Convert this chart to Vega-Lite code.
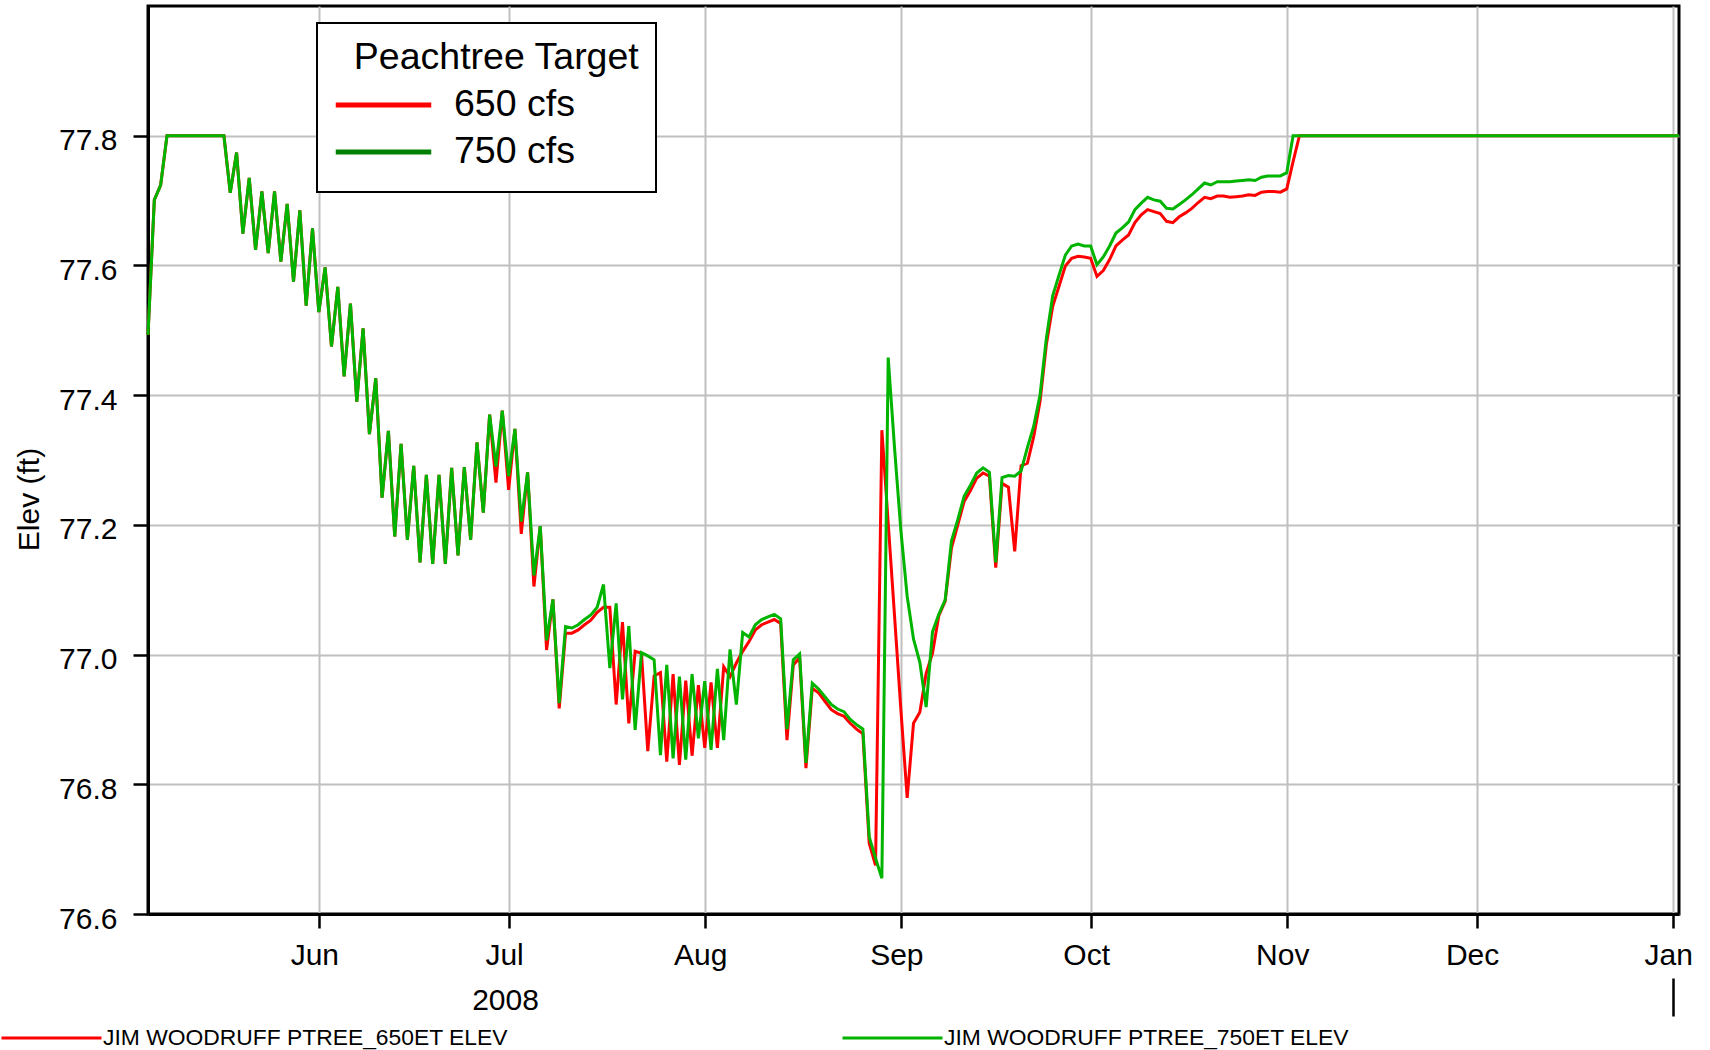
{
"$schema": "https://vega.github.io/schema/vega-lite/v6.json",
"width": 1531, "height": 908,
"autosize": {"type": "none"},
"padding": {"left": 148, "top": 6, "right": 31, "bottom": 136},
"background": "white",
"config": {"font": "Liberation Sans", "view": {"stroke": "black", "strokeWidth": 3}, "legend": {"strokeWidth": 2}},
"data": {"values": [
{"date":"2008-05-05","a":77.493,"b":77.493},{"date":"2008-05-06","a":77.701,"b":77.701},{"date":"2008-05-07","a":77.724,"b":77.724},
{"date":"2008-05-08","a":77.8,"b":77.8},{"date":"2008-05-09","a":77.8,"b":77.8},{"date":"2008-05-10","a":77.8,"b":77.8},{"date":"2008-05-11","a":77.8,"b":77.8},
{"date":"2008-05-12","a":77.8,"b":77.8},{"date":"2008-05-13","a":77.8,"b":77.8},{"date":"2008-05-14","a":77.8,"b":77.8},{"date":"2008-05-15","a":77.8,"b":77.8},
{"date":"2008-05-16","a":77.8,"b":77.8},{"date":"2008-05-17","a":77.8,"b":77.8},{"date":"2008-05-18","a":77.712,"b":77.712},{"date":"2008-05-19","a":77.774,"b":77.774},
{"date":"2008-05-20","a":77.649,"b":77.649},{"date":"2008-05-21","a":77.735,"b":77.735},{"date":"2008-05-22","a":77.624,"b":77.624},{"date":"2008-05-23","a":77.714,"b":77.714},
{"date":"2008-05-24","a":77.619,"b":77.619},{"date":"2008-05-25","a":77.714,"b":77.714},{"date":"2008-05-26","a":77.606,"b":77.606},{"date":"2008-05-27","a":77.695,"b":77.695},
{"date":"2008-05-28","a":77.575,"b":77.575},{"date":"2008-05-29","a":77.685,"b":77.685},{"date":"2008-05-30","a":77.538,"b":77.538},{"date":"2008-05-31","a":77.657,"b":77.657},
{"date":"2008-06-01","a":77.528,"b":77.528},{"date":"2008-06-02","a":77.597,"b":77.597},{"date":"2008-06-03","a":77.475,"b":77.475},{"date":"2008-06-04","a":77.567,"b":77.567},
{"date":"2008-06-05","a":77.429,"b":77.429},{"date":"2008-06-06","a":77.541,"b":77.541},{"date":"2008-06-07","a":77.390,"b":77.390},{"date":"2008-06-08","a":77.503,"b":77.503},
{"date":"2008-06-09","a":77.340,"b":77.340},{"date":"2008-06-10","a":77.426,"b":77.426},{"date":"2008-06-11","a":77.242,"b":77.242},{"date":"2008-06-12","a":77.345,"b":77.345},
{"date":"2008-06-13","a":77.182,"b":77.182},{"date":"2008-06-14","a":77.325,"b":77.325},{"date":"2008-06-15","a":77.177,"b":77.177},{"date":"2008-06-16","a":77.291,"b":77.291},
{"date":"2008-06-17","a":77.142,"b":77.142},{"date":"2008-06-18","a":77.277,"b":77.277},{"date":"2008-06-19","a":77.140,"b":77.140},{"date":"2008-06-20","a":77.277,"b":77.277},
{"date":"2008-06-21","a":77.140,"b":77.140},{"date":"2008-06-22","a":77.288,"b":77.288},{"date":"2008-06-23","a":77.153,"b":77.153},{"date":"2008-06-24","a":77.289,"b":77.289},
{"date":"2008-06-25","a":77.177,"b":77.177},{"date":"2008-06-26","a":77.327,"b":77.327},{"date":"2008-06-27","a":77.219,"b":77.219},{"date":"2008-06-28","a":77.370,"b":77.370},
{"date":"2008-06-29","a":77.265,"b":77.290},{"date":"2008-06-30","a":77.376,"b":77.376},{"date":"2008-07-01","a":77.254,"b":77.275},{"date":"2008-07-02","a":77.348,"b":77.348},
{"date":"2008-07-03","a":77.186,"b":77.205},{"date":"2008-07-04","a":77.281,"b":77.281},{"date":"2008-07-05","a":77.105,"b":77.122},{"date":"2008-07-06","a":77.198,"b":77.198},
{"date":"2008-07-07","a":77.007,"b":77.022},{"date":"2008-07-08","a":77.085,"b":77.085},{"date":"2008-07-09","a":76.917,"b":76.925},{"date":"2008-07-10","a":77.033,"b":77.043},
{"date":"2008-07-11","a":77.033,"b":77.041},{"date":"2008-07-12","a":77.038,"b":77.046},{"date":"2008-07-13","a":77.046,"b":77.054},{"date":"2008-07-14","a":77.053,"b":77.061},
{"date":"2008-07-15","a":77.065,"b":77.073},{"date":"2008-07-16","a":77.073,"b":77.108},{"date":"2008-07-17","a":77.073,"b":76.979},{"date":"2008-07-18","a":76.923,"b":77.079},
{"date":"2008-07-19","a":77.050,"b":76.931},{"date":"2008-07-20","a":76.894,"b":77.044},{"date":"2008-07-21","a":77.005,"b":76.884},{"date":"2008-07-22","a":77.002,"b":77.003},
{"date":"2008-07-23","a":76.851,"b":76.998},{"date":"2008-07-24","a":76.967,"b":76.992},{"date":"2008-07-25","a":76.972,"b":76.845},{"date":"2008-07-26","a":76.835,"b":76.984},
{"date":"2008-07-27","a":76.970,"b":76.840},{"date":"2008-07-28","a":76.830,"b":76.966},{"date":"2008-07-29","a":76.960,"b":76.838},{"date":"2008-07-30","a":76.844,"b":76.970},
{"date":"2008-07-31","a":76.953,"b":76.871},{"date":"2008-08-01","a":76.856,"b":76.959},{"date":"2008-08-02","a":76.957,"b":76.853},{"date":"2008-08-03","a":76.856,"b":76.978},
{"date":"2008-08-04","a":76.981,"b":76.868},{"date":"2008-08-05","a":76.966,"b":77.008},{"date":"2008-08-06","a":76.987,"b":76.923},{"date":"2008-08-07","a":77.005,"b":77.034},
{"date":"2008-08-08","a":77.020,"b":77.027},{"date":"2008-08-09","a":77.038,"b":77.046},{"date":"2008-08-10","a":77.046,"b":77.054},{"date":"2008-08-11","a":77.050,"b":77.058},
{"date":"2008-08-12","a":77.054,"b":77.062},{"date":"2008-08-13","a":77.048,"b":77.055},{"date":"2008-08-14","a":76.868,"b":76.885},{"date":"2008-08-15","a":76.984,"b":76.992},
{"date":"2008-08-16","a":76.995,"b":77.001},{"date":"2008-08-17","a":76.825,"b":76.833},{"date":"2008-08-18","a":76.948,"b":76.956},{"date":"2008-08-19","a":76.941,"b":76.947},
{"date":"2008-08-20","a":76.928,"b":76.935},{"date":"2008-08-21","a":76.915,"b":76.923},{"date":"2008-08-22","a":76.909,"b":76.916},{"date":"2008-08-23","a":76.905,"b":76.912},
{"date":"2008-08-24","a":76.894,"b":76.900},{"date":"2008-08-25","a":76.885,"b":76.892},{"date":"2008-08-26","a":76.878,"b":76.885},{"date":"2008-08-27","a":76.709,"b":76.719},
{"date":"2008-08-28","a":76.675,"b":76.686},{"date":"2008-08-29","a":77.346,"b":76.655},{"date":"2008-08-30","a":77.203,"b":77.458},{"date":"2008-08-31","a":77.060,"b":77.319},
{"date":"2008-09-01","a":76.916,"b":77.192},{"date":"2008-09-02","a":76.779,"b":77.090},{"date":"2008-09-03","a":76.894,"b":77.024},{"date":"2008-09-04","a":76.911,"b":76.988},
{"date":"2008-09-05","a":76.971,"b":76.919},{"date":"2008-09-06","a":77.002,"b":77.035},{"date":"2008-09-07","a":77.060,"b":77.062},{"date":"2008-09-08","a":77.082,"b":77.084},
{"date":"2008-09-09","a":77.164,"b":77.175},{"date":"2008-09-10","a":77.200,"b":77.208},{"date":"2008-09-11","a":77.236,"b":77.244},{"date":"2008-09-12","a":77.253,"b":77.261},
{"date":"2008-09-13","a":77.272,"b":77.280},{"date":"2008-09-14","a":77.280,"b":77.288},{"date":"2008-09-15","a":77.275,"b":77.281},{"date":"2008-09-16","a":77.134,"b":77.142},
{"date":"2008-09-17","a":77.264,"b":77.273},{"date":"2008-09-18","a":77.258,"b":77.276},{"date":"2008-09-19","a":77.159,"b":77.275},{"date":"2008-09-20","a":77.291,"b":77.283},
{"date":"2008-09-21","a":77.295,"b":77.319},{"date":"2008-09-22","a":77.336,"b":77.352},{"date":"2008-09-23","a":77.390,"b":77.400},{"date":"2008-09-24","a":77.478,"b":77.488},
{"date":"2008-09-25","a":77.537,"b":77.553},{"date":"2008-09-26","a":77.568,"b":77.585},{"date":"2008-09-27","a":77.599,"b":77.616},{"date":"2008-09-28","a":77.611,"b":77.630},
{"date":"2008-09-29","a":77.614,"b":77.633},{"date":"2008-09-30","a":77.613,"b":77.630},{"date":"2008-10-01","a":77.611,"b":77.630},{"date":"2008-10-02","a":77.583,"b":77.601},
{"date":"2008-10-03","a":77.592,"b":77.613},{"date":"2008-10-04","a":77.609,"b":77.630},{"date":"2008-10-05","a":77.630,"b":77.650},{"date":"2008-10-06","a":77.639,"b":77.658},
{"date":"2008-10-07","a":77.647,"b":77.667},{"date":"2008-10-08","a":77.666,"b":77.686},{"date":"2008-10-09","a":77.678,"b":77.696},{"date":"2008-10-10","a":77.686,"b":77.705},
{"date":"2008-10-11","a":77.683,"b":77.701},{"date":"2008-10-12","a":77.680,"b":77.699},{"date":"2008-10-13","a":77.668,"b":77.688},{"date":"2008-10-14","a":77.666,"b":77.687},
{"date":"2008-10-15","a":77.675,"b":77.694},{"date":"2008-10-16","a":77.681,"b":77.701},{"date":"2008-10-17","a":77.688,"b":77.709},{"date":"2008-10-18","a":77.697,"b":77.718},
{"date":"2008-10-19","a":77.705,"b":77.727},{"date":"2008-10-20","a":77.703,"b":77.724},{"date":"2008-10-21","a":77.707,"b":77.729},{"date":"2008-10-22","a":77.707,"b":77.729},
{"date":"2008-10-23","a":77.705,"b":77.729},{"date":"2008-10-24","a":77.706,"b":77.730},{"date":"2008-10-25","a":77.707,"b":77.731},{"date":"2008-10-26","a":77.709,"b":77.732},
{"date":"2008-10-27","a":77.708,"b":77.731},{"date":"2008-10-28","a":77.713,"b":77.736},{"date":"2008-10-29","a":77.714,"b":77.738},{"date":"2008-10-30","a":77.714,"b":77.738},
{"date":"2008-10-31","a":77.713,"b":77.738},{"date":"2008-11-01","a":77.718,"b":77.743},{"date":"2008-11-02","a":77.760,"b":77.8},
{"date":"2008-11-03","a":77.8,"b":77.8},{"date":"2008-11-04","a":77.8,"b":77.8},{"date":"2008-11-05","a":77.8,"b":77.8},{"date":"2008-11-06","a":77.8,"b":77.8},
{"date":"2008-11-07","a":77.8,"b":77.8},{"date":"2008-11-08","a":77.8,"b":77.8},{"date":"2008-11-09","a":77.8,"b":77.8},{"date":"2008-11-10","a":77.8,"b":77.8},
{"date":"2008-11-11","a":77.8,"b":77.8},{"date":"2008-11-12","a":77.8,"b":77.8},{"date":"2008-11-13","a":77.8,"b":77.8},{"date":"2008-11-14","a":77.8,"b":77.8},
{"date":"2008-11-15","a":77.8,"b":77.8},{"date":"2008-11-16","a":77.8,"b":77.8},{"date":"2008-11-17","a":77.8,"b":77.8},{"date":"2008-11-18","a":77.8,"b":77.8},
{"date":"2008-11-19","a":77.8,"b":77.8},{"date":"2008-11-20","a":77.8,"b":77.8},{"date":"2008-11-21","a":77.8,"b":77.8},{"date":"2008-11-22","a":77.8,"b":77.8},
{"date":"2008-11-23","a":77.8,"b":77.8},{"date":"2008-11-24","a":77.8,"b":77.8},{"date":"2008-11-25","a":77.8,"b":77.8},{"date":"2008-11-26","a":77.8,"b":77.8},
{"date":"2008-11-27","a":77.8,"b":77.8},{"date":"2008-11-28","a":77.8,"b":77.8},{"date":"2008-11-29","a":77.8,"b":77.8},{"date":"2008-11-30","a":77.8,"b":77.8},
{"date":"2008-12-01","a":77.8,"b":77.8},{"date":"2008-12-02","a":77.8,"b":77.8},{"date":"2008-12-03","a":77.8,"b":77.8},{"date":"2008-12-04","a":77.8,"b":77.8},
{"date":"2008-12-05","a":77.8,"b":77.8},{"date":"2008-12-06","a":77.8,"b":77.8},{"date":"2008-12-07","a":77.8,"b":77.8},{"date":"2008-12-08","a":77.8,"b":77.8},
{"date":"2008-12-09","a":77.8,"b":77.8},{"date":"2008-12-10","a":77.8,"b":77.8},{"date":"2008-12-11","a":77.8,"b":77.8},{"date":"2008-12-12","a":77.8,"b":77.8},
{"date":"2008-12-13","a":77.8,"b":77.8},{"date":"2008-12-14","a":77.8,"b":77.8},{"date":"2008-12-15","a":77.8,"b":77.8},{"date":"2008-12-16","a":77.8,"b":77.8},
{"date":"2008-12-17","a":77.8,"b":77.8},{"date":"2008-12-18","a":77.8,"b":77.8},{"date":"2008-12-19","a":77.8,"b":77.8},{"date":"2008-12-20","a":77.8,"b":77.8},
{"date":"2008-12-21","a":77.8,"b":77.8},{"date":"2008-12-22","a":77.8,"b":77.8},{"date":"2008-12-23","a":77.8,"b":77.8},{"date":"2008-12-24","a":77.8,"b":77.8},
{"date":"2008-12-25","a":77.8,"b":77.8},{"date":"2008-12-26","a":77.8,"b":77.8},{"date":"2008-12-27","a":77.8,"b":77.8},{"date":"2008-12-28","a":77.8,"b":77.8},
{"date":"2008-12-29","a":77.8,"b":77.8},{"date":"2008-12-30","a":77.8,"b":77.8},{"date":"2008-12-31","a":77.8,"b":77.8},{"date":"2009-01-01","a":77.8,"b":77.8},
{"date":"2009-01-02","a":77.8,"b":77.8}
]},
"transform": [{"fold": ["a", "b"], "as": ["series", "elev"]}],
"layer": [
{
"mark": {"type": "line", "opacity": 0, "strokeWidth": 3},
"encoding": {
"x": {"field": "date", "type": "temporal",
 "scale": {"type": "utc", "domain": [{"year": 2008, "month": 5, "date": 5, "utc": true}, {"year": 2009, "month": 1, "date": 2, "utc": true}]},
 "axis": {"orient": "bottom", "values": [{"year": 2009, "month": 1, "date": 1, "utc": true}], "offset": 64, "tickSize": 38, "tickColor": "black", "tickWidth": 2.5,
  "labels": false, "domain": false, "grid": false, "title": "2008", "titleX": 357, "titleY": 31, "titleAlign": "center", "titleBaseline": "alphabetic",
  "titleFontSize": 30, "titleFontWeight": "normal", "titleColor": "black"}},
"y": {"field": "elev", "type": "quantitative", "scale": {"domain": [76.6, 78.0], "nice": false, "zero": false}, "axis": null},
"color": {"field": "series", "type": "nominal", "scale": {"domain": ["a", "b"], "range": ["#ff0000", "#008000"]},
 "legend": {"title": "\u200b\u00a0\u00a0Peachtree Target", "orient": "none", "legendX": 169, "legendY": 17, "direction": "vertical", "padding": 16,
  "strokeColor": "black", "fillColor": "white", "titleFontSize": 37.5, "titleFontWeight": "normal", "titleColor": "black", "titleLimit": 1000, "titlePadding": 5,
  "labelFontSize": 37.5, "labelColor": "black", "labelOffset": 20, "labelLimit": 1000,
  "labelExpr": "datum.value == 'a' ? '650 cfs' : '750 cfs'",
  "symbolType": "stroke", "symbolSize": 9120, "symbolStrokeWidth": 5, "symbolOpacity": 1, "clipHeight": 47, "rowPadding": 0, "zindex": 2}}
}
},
{
"mark": {"type": "line", "strokeWidth": 3},
"encoding": {
"x": {"field": "date", "type": "temporal",
 "scale": {"type": "utc", "domain": [{"year": 2008, "month": 5, "date": 5, "utc": true}, {"year": 2009, "month": 1, "date": 2, "utc": true}]},
 "axis": {"orient": "bottom", "values": [{"year": 2008, "month": 6, "date": 1, "utc": true}, {"year": 2008, "month": 7, "date": 1, "utc": true}, {"year": 2008, "month": 8, "date": 1, "utc": true}, {"year": 2008, "month": 9, "date": 1, "utc": true}, {"year": 2008, "month": 10, "date": 1, "utc": true}, {"year": 2008, "month": 11, "date": 1, "utc": true}, {"year": 2008, "month": 12, "date": 1, "utc": true}, {"year": 2009, "month": 1, "date": 1, "utc": true}],
  "labelExpr": "utcFormat(datum.value, '%b')", "title": null, "grid": true, "gridColor": "#c0c0c0", "gridWidth": 2,
  "domainColor": "black", "domainWidth": 3, "tickColor": "black", "tickWidth": 2.5, "tickSize": 14,
  "labelFontSize": 30, "labelColor": "black", "labelPadding": 12, "labelOffset": -4.5, "labelFlush": false, "labelOverlap": false}},
"y": {"field": "elev", "type": "quantitative", "scale": {"domain": [76.6, 78.0], "nice": false, "zero": false},
 "axis": {"orient": "left", "values": [76.6, 76.8, 77.0, 77.2, 77.4, 77.6, 77.8], "format": ".1f", "title": "Elev (ft)",
  "titleFontSize": 30, "titleFontWeight": "normal", "titleColor": "black", "titleX": -104, "titleY": 493, "titleAngle": 270, "titleAlign": "center", "titleBaseline": "bottom",
  "grid": true, "gridColor": "#c0c0c0", "gridWidth": 2, "domainColor": "black", "domainWidth": 3, "tickColor": "black", "tickWidth": 2.5, "tickSize": 15,
  "labelFontSize": 30, "labelColor": "black", "labelPadding": 16, "labelOffset": 5, "labelFlush": false, "labelOverlap": false}},
"color": {"field": "series", "type": "nominal", "scale": {"domain": ["a", "b"], "range": ["#ff0000", "#00b400"]},
 "legend": {"title": null, "orient": "none", "legendX": -148, "legendY": 1017, "direction": "horizontal", "padding": 0,
  "labelFontSize": 22.85, "labelColor": "black", "labelOffset": 0, "labelLimit": 1000, "clipHeight": 30,
  "labelExpr": "datum.value == 'a' ? 'JIM WOODRUFF PTREE_650ET ELEV' : 'JIM WOODRUFF PTREE_750ET ELEV'",
  "symbolType": "stroke", "symbolSize": 10000, "symbolStrokeWidth": 3, "columnPadding": 333}}
}
}
],
"resolve": {"scale": {"color": "independent"}, "axis": {"x": "independent", "y": "independent"}}
}
